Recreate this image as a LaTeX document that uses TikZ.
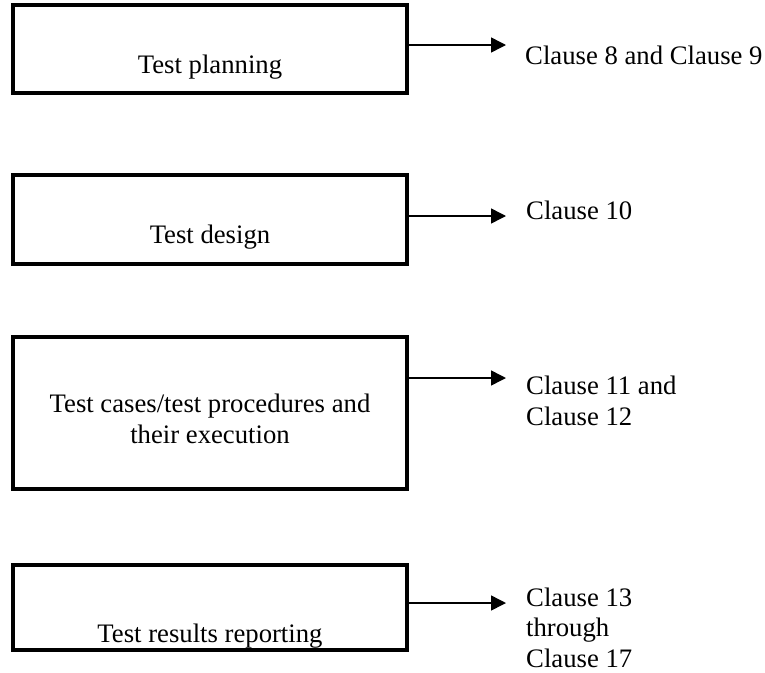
\documentclass[tikz,border=0pt]{standalone}
\usepackage{fontspec}
\setmainfont{Liberation Serif}
\usetikzlibrary{arrows.meta}
\begin{document}
\begin{tikzpicture}[x=1pt, y=-1pt,
    box/.style={draw, line width=4pt, minimum width=394pt, inner sep=0pt, outer sep=0pt},
    boxtext/.style={font=\fontsize{26.7}{30.5}\selectfont, align=center},
    clause/.style={font=\fontsize{26.7}{30.5}\selectfont, align=left, anchor=base west, inner sep=0pt},
    feed/.style={-{Triangle[length=15pt,width=15pt]}, line width=1.5pt}]
    \useasboundingbox (0,0) rectangle (765,672);
    % the four stages
    \node[box, minimum height=88pt,
          label={[boxtext, anchor=base, label distance=-20pt]south:Test planning}]
    (planning) at (210,49) {};
    \node[box, minimum height=89pt,
          label={[boxtext, anchor=base, label distance=-21pt]south:Test design}]
    (design) at (210,219.5) {};
    \node[box, minimum height=152pt,
          label={[boxtext, yshift=-6pt]center:Test cases/test procedures and\\their execution}]
    (cases) at (210,413) {};
    \node[box, minimum height=85pt,
          label={[boxtext, anchor=base, label distance=-8pt]south:Test results reporting}]
    (reporting) at (210,607.5) {};
    % where each stage is covered (base = last line)
    \node[clause] (planningref) at (525,64) {Clause 8 and Clause 9};
    \node[clause] (designref) at (526,219) {Clause 10};
    \node[clause] (casesref) at (526,425) {Clause 11 and\\Clause 12};
    \node[clause] (reportingref) at (526,667) {Clause 13\\through\\Clause 17};
    \coordinate (planningtip) at (506,45);
    \coordinate (designtip) at (506,216);
    \coordinate (casestip) at (506,378);
    \coordinate (reportingtip) at (506,603);
    \draw[feed] (planning.east |- planningtip) -- (planningtip);
    \draw[feed] (design.east |- designtip) -- (designtip);
    \draw[feed] (cases.east |- casestip) -- (casestip);
    \draw[feed] (reporting.east |- reportingtip) -- (reportingtip);
\end{tikzpicture}
\end{document}
